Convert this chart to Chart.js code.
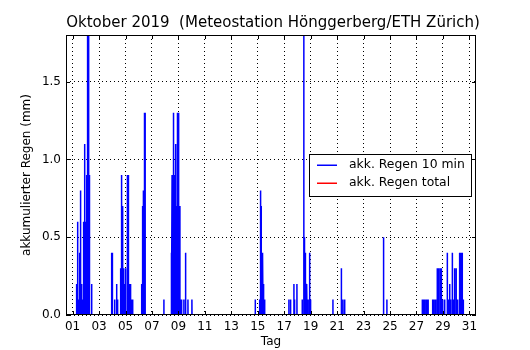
<!DOCTYPE html>
<html>
<head>
    <meta charset="utf-8">
    <title>Regen Oktober 2019</title>
    <style>
        body {
            margin: 0;
            background-color: #ffffff;
        }
    </style>
</head>
<body>
    <canvas id="rainChart" width="530" height="350"></canvas>

    <script src="https://cdn.jsdelivr.net/npm/chart.js"></script>
    <script>
        const titleText = 'Oktober 2019  (Meteostation Hönggerberg/ETH Zürich)';
        const seriesLabels = ['akk. Regen 10 min', 'akk. Regen total'];
        const seriesColors = ['#0000ff', '#ff0000'];
        const dayTicks = [1, 3, 5, 7, 9, 11, 13, 15, 17, 19, 21, 23, 25, 27, 29, 31];
        const mmTicks = [0, 0.5, 1.0, 1.5];

        // 10-minute rain sums (day of month, mm)
        const rainDays = [
            1.30, 1.38, 1.45, 1.53, 1.60, 1.68, 1.76, 1.83, 1.91, 1.95, 1.98, 2.06, 2.13, 2.21, 2.25, 2.29, 2.44,
            3.95, 3.99, 4.02, 4.18, 4.33, 4.40, 4.63, 4.70, 4.78, 4.85, 4.93, 5.00, 5.12, 5.19, 5.23, 5.31, 5.38, 5.46, 5.54,
            6.22, 6.29, 6.35, 6.41, 6.44, 6.48,
            7.90, 8.45, 8.52, 8.60, 8.66, 8.71, 8.79, 8.86, 8.91, 8.97, 9.03, 9.11, 9.16, 9.24, 9.41, 9.52, 9.56, 9.72, 10.02,
            14.81, 15.14, 15.21, 15.26, 15.33, 15.39, 15.44, 15.52,
            17.35, 17.48, 17.73, 17.78, 17.96, 18.36, 18.48, 18.53, 18.58, 18.65, 18.72, 18.80, 18.92, 18.99,
            20.68, 21.32, 21.44, 21.57,
            24.51, 24.76,
            27.44, 27.54, 27.65, 27.77, 27.88, 28.22, 28.33, 28.45, 28.57, 28.67, 28.79, 28.88, 28.98,
            29.13, 29.33, 29.43, 29.51, 29.58, 29.71, 29.81, 29.88, 30.00, 30.11, 30.26, 30.37, 30.46, 30.54
        ];
        const rainMm = [
            0.2, 0.6, 0.1, 0.4, 0.8, 0.2, 0.1, 0.6, 1.1, 0.6, 0.4, 0.9, 1.9, 1.9, 0.9, 0.1, 0.2,
            0.4, 0.2, 0.4, 0.1, 0.2, 0.1, 0.3, 0.9, 0.7, 0.3, 0.2, 0.3, 0.9, 0.9, 0.3, 0.2, 0.2, 0.1, 0.1,
            0.2, 0.7, 0.8, 1.3, 0.4, 1.3,
            0.1, 0.4, 0.9, 1.3, 1.1, 0.9, 1.1, 0.7, 1.3, 1.3, 0.9, 0.7, 0.1, 0.1, 0.1, 0.4, 0.2, 0.1, 0.1,
            0.1, 0.1, 0.8, 0.7, 0.4, 0.4, 0.2, 0.1,
            0.1, 0.1, 0.2, 0.1, 0.2, 0.1, 1.9, 0.5, 0.4, 0.2, 0.2, 0.1, 0.4, 0.1,
            0.1, 0.3, 0.1, 0.1,
            0.5, 0.1,
            0.1, 0.1, 0.1, 0.1, 0.1, 0.1, 0.1, 0.1, 0.3, 0.3, 0.3, 0.3, 0.1,
            0.1, 0.4, 0.1, 0.2, 0.1, 0.4, 0.1, 0.3, 0.3, 0.1, 0.4, 0.4, 0.4, 0.1
        ];
        // the running total is not visible inside the plotted range
        const totalDays = [];
        const totalMm = [];

        const fontFamily = '"DejaVu Sans", sans-serif';
        const step = 1 / 144;  // one 10-minute interval in days

        const tenMinPoints = [{ x: 1, y: 0 }];
        rainDays.forEach((d, i) => {
            tenMinPoints.push({ x: d - step, y: 0 }, { x: d, y: rainMm[i] }, { x: d + step, y: 0 });
        });
        tenMinPoints.push({ x: 32, y: 0 });
        const totalPoints = totalDays.map((d, i) => ({ x: d, y: totalMm[i] }));

        // title, frame, inward ticks and boxed legend in matplotlib style
        const mplDecor = {
            id: 'mplDecor',
            afterDatasetsDraw(chart) {
                const ctx = chart.ctx;
                const a = chart.chartArea;
                const xs = chart.scales.x;
                const ys = chart.scales.y;
                ctx.save();
                ctx.setLineDash([]);

                ctx.fillStyle = '#000';
                ctx.font = '15px ' + fontFamily;
                ctx.textAlign = 'center';
                ctx.textBaseline = 'middle';
                ctx.fillText(titleText, (a.left + a.right) / 2 + 2, 23);

                ctx.strokeStyle = '#000';
                ctx.lineWidth = 1;
                ctx.beginPath();
                dayTicks.forEach(v => {
                    const px = Math.round(xs.getPixelForValue(v)) + 0.5;
                    ctx.moveTo(px, a.bottom); ctx.lineTo(px, a.bottom - 4);
                    ctx.moveTo(px, a.top); ctx.lineTo(px, a.top + 4);
                });
                mmTicks.forEach(v => {
                    const py = Math.round(ys.getPixelForValue(v)) + 0.5;
                    ctx.moveTo(a.left, py); ctx.lineTo(a.left + 4, py);
                    ctx.moveTo(a.right, py); ctx.lineTo(a.right - 4, py);
                });
                ctx.stroke();
                ctx.strokeRect(a.left + 0.5, a.top + 0.5, a.right - a.left - 1, a.bottom - a.top - 1);

                // legend box, centre right
                ctx.font = '12.4px ' + fontFamily;
                const textW = Math.max(...seriesLabels.map(t => ctx.measureText(t).width));
                const boxW = Math.round(8 + 20 + 12 + textW + 6);
                const boxH = 42;
                const boxR = a.right - 5;
                const boxL = boxR - boxW;
                const cy = (a.top + a.bottom) / 2;
                const boxT = Math.round(cy - boxH / 2);
                ctx.fillStyle = '#fff';
                ctx.fillRect(boxL, boxT, boxW, boxH);
                ctx.strokeStyle = '#000';
                ctx.lineWidth = 1;
                ctx.strokeRect(Math.round(boxL) + 0.5, boxT + 0.5, boxW, boxH);
                seriesLabels.forEach((t, i) => {
                    const ry = Math.round(cy - 10 + i * 18);
                    ctx.fillStyle = seriesColors[i];
                    ctx.fillRect(boxL + 8, ry - 0.5, 20, 1.5);
                    ctx.fillStyle = '#000';
                    ctx.textAlign = 'left';
                    ctx.textBaseline = 'middle';
                    ctx.fillText(t, boxL + 40, ry);
                });
                ctx.restore();
            }
        };

        const ctx = document.getElementById('rainChart').getContext('2d');
        new Chart(ctx, {
            type: 'line',
            data: {
                datasets: [{
                    label: seriesLabels[0],
                    data: tenMinPoints,
                    borderColor: seriesColors[0],
                    borderWidth: 1.5,
                    pointRadius: 0,
                    tension: 0,
                    fill: false
                }, {
                    label: seriesLabels[1],
                    data: totalPoints,
                    borderColor: seriesColors[1],
                    borderWidth: 1,
                    pointRadius: 0,
                    fill: false
                }]
            },
            options: {
                responsive: false,
                animation: false,
                devicePixelRatio: 1,
                layout: {
                    padding: { left: 16, right: 54, top: 35, bottom: 0 }
                },
                plugins: {
                    legend: { display: false },
                    title: { display: false },
                    tooltip: { enabled: false }
                },
                scales: {
                    x: {
                        type: 'linear',
                        min: 0.5,
                        max: 31.5,
                        afterBuildTicks: s => { s.ticks = dayTicks.map(v => ({ value: v })); },
                        afterFit: s => { s.height = 35; },
                        ticks: {
                            callback: v => String(v).padStart(2, '0'),
                            color: '#000',
                            font: { family: fontFamily, size: 12 },
                            maxRotation: 0,
                            autoSkip: false,
                            padding: 5
                        },
                        grid: { color: '#000', lineWidth: 1, drawTicks: false, borderDash: [1, 3] },
                        border: { display: false, dash: [1, 3] },
                        title: {
                            display: true,
                            text: 'Tag',
                            color: '#000',
                            font: { family: fontFamily, size: 12 },
                            padding: { top: 0, bottom: 1 }
                        }
                    },
                    y: {
                        min: 0,
                        max: 1.8,
                        afterBuildTicks: s => { s.ticks = mmTicks.map(v => ({ value: v })); },
                        afterFit: s => { s.width = 50; },
                        ticks: {
                            callback: v => Number(v).toFixed(1),
                            color: '#000',
                            font: { family: fontFamily, size: 12 },
                            padding: 5
                        },
                        grid: { color: '#000', lineWidth: 1, drawTicks: false, borderDash: [1, 3] },
                        border: { display: false, dash: [1, 3] },
                        title: {
                            display: true,
                            text: 'akkumulierter Regen (mm)',
                            color: '#000',
                            font: { family: fontFamily, size: 12 },
                            padding: { top: 4, bottom: 0 }
                        }
                    }
                }
            },
            plugins: [mplDecor]
        });
    </script>
</body>
</html>
